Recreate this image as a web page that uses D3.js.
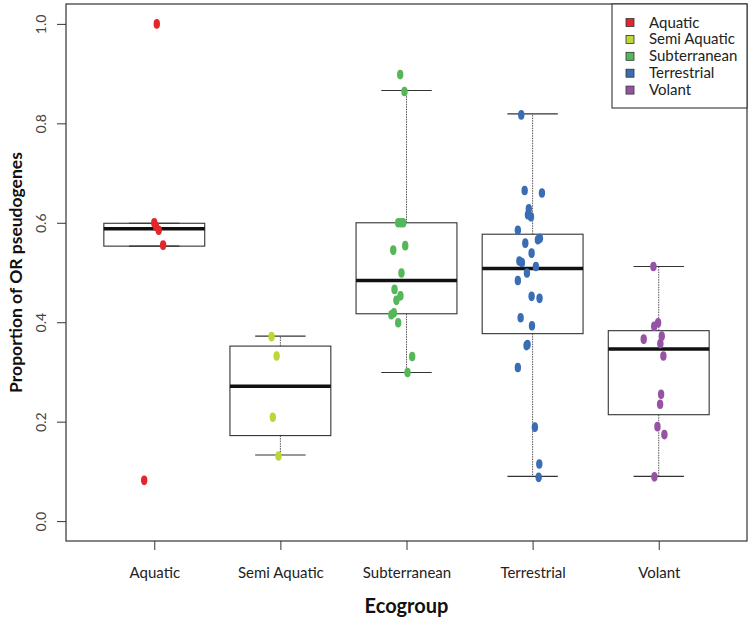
<!DOCTYPE html>
<html>
<head>
<meta charset="utf-8">
<script src="https://cdn.jsdelivr.net/npm/d3@7"></script>
<style>
    body { margin: 0; background: #fff; }
    svg { display: block; font-family: "Lato", "DejaVu Sans", sans-serif; }
</style>
</head>
<body>
<div id="chart"></div>
<script>
// categories and colours
const categories = ["Aquatic", "Semi Aquatic", "Subterranean", "Terrestrial", "Volant"];
const colors = ["#e3262b", "#bfd638", "#55b75a", "#3a6db3", "#9653a5"];

const aquaticValues = [1.0, 0.6, 0.593, 0.585, 0.555, 0.082];
const aquaticJitter = [0.02, 0.0, 0.013, 0.035, 0.07, -0.08];

const semiValues = [0.371, 0.332, 0.209, 0.131];
const semiJitter = [-0.07, -0.03, -0.06, -0.015];

const subterraneanValues = [0.898, 0.864, 0.6, 0.6, 0.6, 0.554, 0.545, 0.499, 0.466, 0.453, 0.444, 0.419, 0.415, 0.399, 0.331, 0.299];
const subterraneanJitter = [-0.05, -0.016, -0.066, -0.045, -0.026, -0.01, -0.105, -0.04, -0.095, -0.048, -0.08, -0.1, -0.12, -0.066, 0.045, 0.008];

const terrestrialValues = [0.817, 0.665, 0.66, 0.628, 0.616, 0.612, 0.585, 0.569, 0.566, 0.559, 0.539, 0.523, 0.52, 0.512, 0.499, 0.484, 0.452, 0.448, 0.409, 0.393, 0.355, 0.353, 0.309, 0.189, 0.115, 0.088];
const terrestrialJitter = [-0.09, -0.063, 0.074, -0.03, -0.037, -0.013, -0.117, 0.058, 0.042, -0.058, -0.008, -0.105, -0.085, 0.026, -0.045, -0.117, -0.008, 0.055, -0.095, -0.005, -0.04, -0.048, -0.117, 0.018, 0.053, 0.048];

const volantValues = [0.512, 0.399, 0.392, 0.372, 0.366, 0.357, 0.332, 0.255, 0.235, 0.19, 0.174, 0.089];
const volantJitter = [-0.042, -0.005, -0.036, 0.024, -0.119, 0.013, 0.037, 0.019, 0.011, -0.01, 0.045, -0.034];

// boxplot statistics per category
const whiskerLow = [0.553, 0.133, 0.299, 0.090, 0.090];
const q1 = [0.553, 0.172, 0.417, 0.377, 0.214];
const medians = [0.588, 0.271, 0.484, 0.508, 0.346];
const q3 = [0.599, 0.352, 0.600, 0.577, 0.383];
const whiskerHigh = [0.599, 0.372, 0.866, 0.819, 0.512];

const yTicks = [0, 0.2, 0.4, 0.6, 0.8, 1.0];

const groupValues = [aquaticValues, semiValues, subterraneanValues, terrestrialValues, volantValues];
const groupJitter = [aquaticJitter, semiJitter, subterraneanJitter, terrestrialJitter, volantJitter];

const width = 748;
const height = 622;
const plot = { left: 66, right: 747, top: 4, bottom: 541 };

const svg = d3.select("#chart").append("svg")
    .attr("width", width)
    .attr("height", height);

const x = d3.scaleLinear().domain([0.3, 5.7]).range([plot.left, plot.right]);
const y = d3.scaleLinear().domain([-0.04, 1.04]).range([plot.bottom, plot.top]);

const boxHalf = 0.4;
const capHalf = 0.2;

// boxes
categories.forEach((cat, i) => {
    const cx = i + 1;
    const g = svg.append("g");

    // whiskers
    g.append("line")
        .attr("x1", x(cx)).attr("x2", x(cx))
        .attr("y1", y(q3[i])).attr("y2", y(whiskerHigh[i]))
        .attr("stroke", "#555").attr("stroke-width", 1).attr("stroke-dasharray", "1.5,1");
    g.append("line")
        .attr("x1", x(cx)).attr("x2", x(cx))
        .attr("y1", y(q1[i])).attr("y2", y(whiskerLow[i]))
        .attr("stroke", "#555").attr("stroke-width", 1).attr("stroke-dasharray", "1.5,1");

    [whiskerHigh[i], whiskerLow[i]].forEach(v => {
        g.append("line")
            .attr("x1", x(cx - capHalf)).attr("x2", x(cx + capHalf))
            .attr("y1", y(v)).attr("y2", y(v))
            .attr("stroke", "#333").attr("stroke-width", 1.1);
    });

    g.append("rect")
        .attr("x", x(cx - boxHalf))
        .attr("y", y(q3[i]))
        .attr("width", x(cx + boxHalf) - x(cx - boxHalf))
        .attr("height", y(q1[i]) - y(q3[i]))
        .attr("fill", "none")
        .attr("stroke", "#333")
        .attr("stroke-width", 1.1);

    g.append("line")
        .attr("x1", x(cx - boxHalf)).attr("x2", x(cx + boxHalf))
        .attr("y1", y(medians[i])).attr("y2", y(medians[i]))
        .attr("stroke", "#111").attr("stroke-width", 3.5);
});

// jittered points
categories.forEach((cat, i) => {
    const pts = groupValues[i].map((v, j) => ({ v: v, jx: groupJitter[i][j] }));
    svg.append("g").selectAll("ellipse")
        .data(pts)
        .enter().append("ellipse")
        .attr("cx", d => x(i + 1 + d.jx))
        .attr("cy", d => y(d.v))
        .attr("rx", 3.2)
        .attr("ry", 4.8)
        .attr("fill", colors[i]);
});

// frame
svg.append("rect")
    .attr("x", plot.left).attr("y", plot.top)
    .attr("width", plot.right - plot.left).attr("height", plot.bottom - plot.top)
    .attr("fill", "none").attr("stroke", "#333").attr("stroke-width", 1.2);

// y axis
const yAxis = svg.append("g")
    .attr("transform", `translate(${plot.left},0)`)
    .call(d3.axisLeft(y).tickValues(yTicks).tickFormat(d3.format(".1f")).tickSize(9).tickSizeOuter(0));
yAxis.select(".domain").remove();
yAxis.selectAll(".tick line").attr("stroke", "#333");
yAxis.selectAll(".tick text")
    .attr("x", 0).attr("y", -20).attr("dy", 0)
    .attr("transform", "rotate(-90)")
    .style("text-anchor", "middle")
    .style("font-size", "14px")
    .style("font-family", "Lato, sans-serif")
    .attr("fill", "#444");

// x axis
const xAxis = svg.append("g")
    .attr("transform", `translate(0,${plot.bottom})`)
    .call(d3.axisBottom(x).tickValues([1, 2, 3, 4, 5]).tickFormat(d => categories[d - 1]).tickSize(9).tickSizeOuter(0));
xAxis.select(".domain").remove();
xAxis.selectAll(".tick line").attr("stroke", "#333");
xAxis.selectAll(".tick text")
    .attr("y", 0).attr("dy", 0)
    .attr("transform", "translate(0,37)")
    .style("font-size", "15px")
    .style("font-family", "Lato, sans-serif")
    .attr("fill", "#222");

// axis titles
svg.append("text")
    .attr("transform", `translate(22,${(y(0.5))}) rotate(-90)`)
    .style("text-anchor", "middle")
    .style("font-size", "17.5px")
    .style("font-weight", "bold")
    .style("font-family", "Lato, sans-serif")
    .attr("fill", "#111")
    .text("Proportion of OR pseudogenes");

svg.append("text")
    .attr("x", (plot.left + plot.right) / 2)
    .attr("y", 613)
    .style("text-anchor", "middle")
    .style("font-size", "20px")
    .style("font-weight", "bold")
    .style("font-family", "Lato, sans-serif")
    .attr("fill", "#111")
    .text("Ecogroup");

// legend
const legend = svg.append("g");
legend.append("rect")
    .attr("x", 612).attr("y", plot.top)
    .attr("width", plot.right - 612).attr("height", 104)
    .attr("fill", "#fff").attr("stroke", "#333").attr("stroke-width", 1.1);

categories.forEach((cat, i) => {
    const cy = 22.5 + i * 16.9;
    legend.append("rect")
        .attr("x", 626).attr("y", cy - 4)
        .attr("width", 8).attr("height", 8)
        .attr("fill", colors[i]).attr("stroke", "#333").attr("stroke-width", 0.8);
    legend.append("text")
        .attr("x", 649).attr("y", cy + 5)
        .style("font-size", "15px")
        .style("font-family", "Lato, sans-serif")
        .attr("fill", "#222")
        .text(cat);
});
</script>
</body>
</html>
